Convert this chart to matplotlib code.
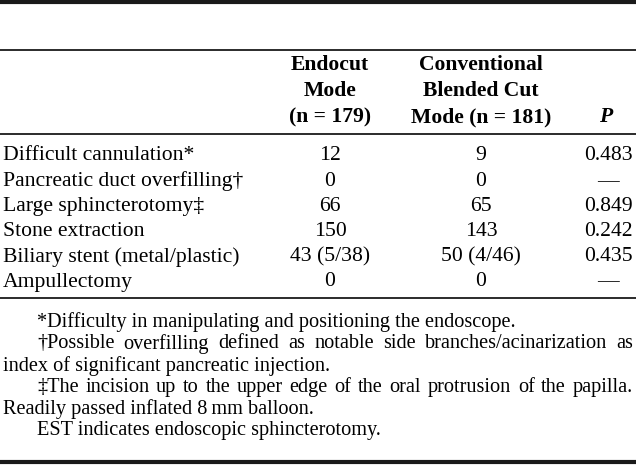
"""Table: procedure details, Endocut vs conventional blended cut mode."""
import matplotlib
matplotlib.use("Agg")
import matplotlib.pyplot as plt

W, H = 636, 466
plt.rcParams["font.family"] = ["Liberation Serif", "DejaVu Serif"]

rows = ["Difficult cannulation*", "Pancreatic duct overfilling\u2020",
        "Large sphincterotomy\u2021", "Stone extraction",
        "Biliary stent (metal/plastic)", "Ampullectomy"]
endocut = ["12", "0", "66", "150", "43 (5/38)", "0"]
conventional = ["9", "0", "65", "143", "50 (4/46)", "0"]
pvals = ["0.483", "\u2014", "0.849", "0.242", "0.435", "\u2014"]

head_endo = ["Endocut", "Mode", "(n = 179)"]
head_conv = ["Conventional", "Blended Cut", "Mode (n = 181)"]

notes = [
    (True, False, "*Difficulty in manipulating and positioning the endoscope."),
    (True, True, "\u2020Possible overfilling defined as notable side branches/acinarization as"),
    (False, False, "index of significant pancreatic injection."),
    (True, True, "\u2021The incision up to the upper edge of the oral protrusion of the papilla."),
    (False, False, "Readily passed inflated 8\u2009mm balloon."),
    (True, False, "EST indicates endoscopic sphincterotomy."),
]

fig = plt.figure(figsize=(W / 100, H / 100), dpi=100)
fig.patch.set_facecolor("white")


def fx(x):
    return x / W


def fy(y):
    return 1 - y / H


def rule(y, lw):
    fig.add_artist(plt.Line2D([0, 1], [fy(y), fy(y)], color="#1a1a1a", lw=lw,
                              transform=fig.transFigure))


rule(1.5, 3.0)
rule(50, 1.3)
rule(134, 1.3)
rule(298, 1.3)
rule(462, 3.0)

FS = 15.6
# header
for i, (a, b) in enumerate(zip(head_endo, head_conv)):
    y = fy(65 + i * 26)
    fig.text(fx(330), y, a, ha="center", va="center", fontsize=FS, fontweight="bold")
    fig.text(fx(481), y, b, ha="center", va="center", fontsize=FS, fontweight="bold")
fig.text(fx(606), fy(117), "P", ha="center", va="center", fontsize=FS,
         fontweight="bold", fontstyle="italic")

# body
for i, (r, e, c, p) in enumerate(zip(rows, endocut, conventional, pvals)):
    y = fy(156 + i * 25.2)
    fig.text(fx(3), y, r, ha="left", va="center", fontsize=FS)
    fig.text(fx(330), y, e, ha="center", va="center", fontsize=FS)
    fig.text(fx(481), y, c, ha="center", va="center", fontsize=FS)
    if p == "\u2014":
        fig.text(fx(608), y, p, ha="center", va="center", fontsize=FS)
    else:
        fig.text(fx(633), y, p, ha="right", va="center", fontsize=FS)

# footnotes (justified where needed)
FN = 14.6
fig.canvas.draw()
rend = fig.canvas.get_renderer()
for i, (indent, justify, line) in enumerate(notes):
    y = fy(322 + i * 21.8)
    x0 = 37 if indent else 3
    if not justify:
        fig.text(fx(x0), y, line, ha="left", va="center", fontsize=FN)
        continue
    words = line.split(" ")
    arts = [fig.text(0, y, w, ha="left", va="center", fontsize=FN) for w in words]
    widths = [a.get_window_extent(rend).width for a in arts]
    gap = (633 - x0 - sum(widths)) / (len(words) - 1)
    x = x0
    for a, wd in zip(arts, widths):
        a.set_x(fx(x))
        x += wd + gap

fig.savefig("out.png", dpi=100)
